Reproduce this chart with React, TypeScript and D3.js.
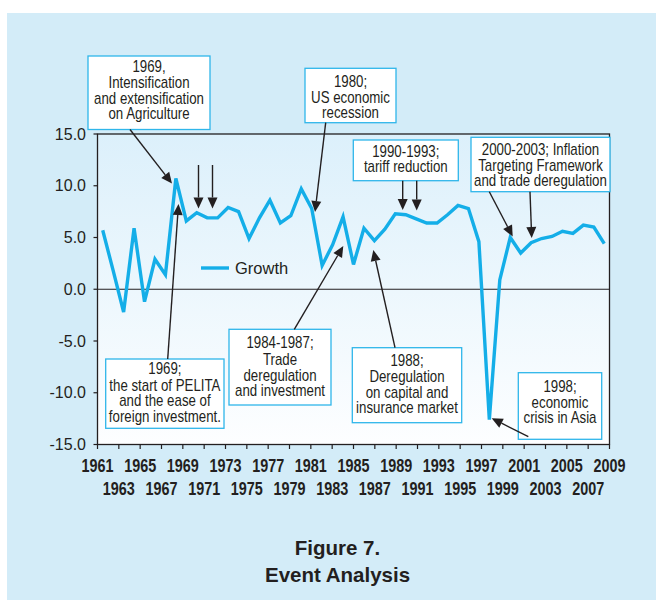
import React from "react";
import * as d3 from "d3";

const years = [
  1961, 1962, 1963, 1964, 1965, 1966, 1967, 1968, 1969, 1970,
  1971, 1972, 1973, 1974, 1975, 1976, 1977, 1978, 1979, 1980,
  1981, 1982, 1983, 1984, 1985, 1986, 1987, 1988, 1989, 1990,
  1991, 1992, 1993, 1994, 1995, 1996, 1997, 1998, 1999, 2000,
  2001, 2002, 2003, 2004, 2005, 2006, 2007, 2008, 2009,
];
const growth = [
  5.7, 1.8, -2.2, 5.9, -1.2, 2.9, 1.4, 10.7, 6.6, 7.4,
  6.9, 6.9, 7.9, 7.5, 4.9, 6.9, 8.6, 6.4, 7.1, 9.7,
  7.8, 2.3, 4.3, 7.0, 2.4, 5.9, 4.7, 5.8, 7.3, 7.2,
  6.8, 6.4, 6.4, 7.2, 8.1, 7.8, 4.6, -12.6, 0.9, 5.0,
  3.5, 4.5, 4.9, 5.1, 5.6, 5.4, 6.2, 6.0, 4.4,
];
const xTickLabels = [
  "1961", "1963", "1965", "1967", "1969", "1971", "1973", "1975", "1977",
  "1979", "1981", "1983", "1985", "1987", "1989", "1991", "1993", "1995",
  "1997", "1999", "2001", "2003", "2005", "2007", "2009",
];
const yTicks = [15, 10, 5, 0, -5, -10, -15];
const seriesName = "Growth";

type Box = { x0: number; x1: number; y0: number; y1: number; cx: number; lines: string[]; ys: number[] };
const boxes: Box[] = [
  { x0: 88, x1: 210, y0: 56, y1: 129.5, cx: 149, lines: ["1969,", "Intensification", "and extensification", "on Agriculture"], ys: [66.7, 82.7, 98.3, 113.3] },
  { x0: 305, x1: 396, y0: 68.3, y1: 122.7, cx: 350.5, lines: ["1980;", "US economic", "recession"], ys: [81.7, 97.3, 112.3] },
  { x0: 353.3, x1: 458.3, y0: 140, y1: 180.7, cx: 405.8, lines: ["1990-1993;", "tariff reduction"], ys: [151.7, 166.7] },
  { x0: 471, x1: 610, y0: 137.3, y1: 191.7, cx: 540.5, lines: ["2000-2003; Inflation", "Targeting Framework", "and trade deregulation"], ys: [149.3, 165, 180.7] },
  { x0: 105.7, x1: 224, y0: 359, y1: 428.3, cx: 164.9, lines: ["1969;", "the start of PELITA", "and the ease of", "foreign investment."], ys: [368.3, 385, 400.7, 416.7] },
  { x0: 229, x1: 331, y0: 329.3, y1: 405, cx: 280, lines: ["1984-1987;", "Trade", "deregulation", "and investment"], ys: [342.7, 359, 375, 390.7] },
  { x0: 352.3, x1: 461.7, y0: 347.7, y1: 422.7, cx: 407, lines: ["1988;", "Deregulation", "on capital and", "insurance market"], ys: [360, 376.7, 392.7, 407.7] },
  { x0: 518.3, x1: 601.7, y0: 372.7, y1: 439.3, cx: 560, lines: ["1998;", "economic", "crisis in Asia"], ys: [386.7, 402.7, 417.7] },
];

const arrows = [
  [130, 129.5, 172, 183.5],
  [198.5, 165, 198.5, 208.5],
  [212.5, 165, 212.5, 208.5],
  [167.7, 359, 178.5, 204],
  [325.7, 122.7, 315, 212],
  [294.3, 329.3, 343.3, 246],
  [395, 347.7, 373.3, 250],
  [402.7, 180.7, 402.7, 210],
  [416.7, 180.7, 416.7, 210.5],
  [489.3, 191.7, 512.7, 236.5],
  [530, 191.7, 531.7, 238],
  [528.3, 436.7, 491.7, 418.3],
];

const L = 97.5, R = 609.5, T = 134, B = 444.5;
const regular = "'Liberation Sans', Arial, sans-serif";
const ink = "#231f20";
const cyan = "#14aee8";
const boxStroke = "#2fb6ea";

function NText({ x, y, children, size = 16, bold = false, anchor = "middle", dy = "0", sx = 0.83 }: any) {
  return (
    <text
      transform={`translate(${x},${y}) scale(${sx},1)`}
      dy={dy}
      textAnchor={anchor}
      fontFamily={regular}
      fontWeight={bold ? "bold" : "normal"}
      fontSize={size}
      fill={ink}
    >
      {children}
    </text>
  );
}

function Arrow({ a }: { a: number[] }) {
  const [x1, y1, x2, y2] = a;
  const dx = x2 - x1, dy = y2 - y1;
  const len = Math.hypot(dx, dy);
  const ux = dx / len, uy = dy / len;
  const hl = 11, hw = 5;
  const bx = x2 - ux * hl, by = y2 - uy * hl;
  const px = -uy, py = ux;
  const pts = `${x2},${y2} ${bx + px * hw},${by + py * hw} ${bx - px * hw},${by - py * hw}`;
  return (
    <g>
      <line x1={x1} y1={y1} x2={bx} y2={by} stroke={ink} strokeWidth={1.4} />
      <polygon points={pts} fill={ink} />
    </g>
  );
}

export default function App() {
  const x = d3.scaleBand<number>().domain(years).range([L, R]).paddingInner(0).paddingOuter(0);
  const xc = (yr: number) => (x(yr) as number) + x.bandwidth() / 2;
  const xt = d3.scalePoint<string>().domain(xTickLabels).range([L, R]);
  const y = d3.scaleLinear().domain([-15, 15]).range([B, T]);
  const line = d3
    .line<number>()
    .x((_, i) => xc(years[i]))
    .y((d) => y(d));

  return (
    <svg width={656} height={600} style={{ position: "absolute", left: 0, top: 0 }}>
      <defs>
        <linearGradient id="pg" x1="0" y1="0" x2="0" y2="1">
          <stop offset="0" stopColor="#dcf0fb" />
          <stop offset="1" stopColor="#fdfeff" />
        </linearGradient>
      </defs>
      <rect x={0} y={0} width={656} height={600} fill="#ffffff" />
      <rect x={7} y={13} width={649} height={587} fill="#d3ecf8" />
      <rect x={L} y={T} width={R - L} height={B - T} fill="url(#pg)" stroke={ink} strokeWidth={1.3} />
      <line x1={L} x2={R} y1={y(0)} y2={y(0)} stroke={ink} strokeWidth={1.2} />
      {yTicks.map((t) => (
        <g key={t}>
          <line x1={L - 4} x2={L} y1={y(t)} y2={y(t)} stroke={ink} strokeWidth={1.2} />
          <text x={86} y={y(t)} dy="0.35em" textAnchor="end" fontFamily={regular} fontSize={16} fill={ink}>
            {t.toFixed(1)}
          </text>
        </g>
      ))}
      {xTickLabels.map((t, i) => (
        <g key={t}>
          <line x1={xt(t)} x2={xt(t)} y1={B} y2={B + 4.5} stroke={ink} strokeWidth={1.2} />
          <NText x={xt(t)} y={i % 2 === 0 ? 472 : 495} size={18} bold sx={0.8}>
            {t}
          </NText>
        </g>
      ))}
      <path d={line(growth) || ""} fill="none" stroke={cyan} strokeWidth={3.4} strokeLinejoin="miter" />
      <line x1={201} x2={229} y1={268} y2={268} stroke={cyan} strokeWidth={3.4} />
      <text x={235} y={274} fontFamily={regular} fontSize={16.5} fill={ink}>{seriesName}</text>
      {boxes.map((b, i) => (
        <g key={i}>
          <rect x={b.x0} y={b.y0} width={b.x1 - b.x0} height={b.y1 - b.y0} fill="#ffffff" stroke={boxStroke} strokeWidth={1.3} />
          {b.lines.map((s, j) => (
            <NText key={j} x={b.cx} y={b.ys[j]} dy="0.36em" size={16}>
              {s}
            </NText>
          ))}
        </g>
      ))}
      {arrows.map((a, i) => (
        <Arrow key={i} a={a} />
      ))}
      <text x={337.5} y={555} textAnchor="middle" fontFamily={regular} fontWeight="bold" fontSize={20.5} fill={ink}>Figure 7.</text>
      <text x={337.5} y={582} textAnchor="middle" fontFamily={regular} fontWeight="bold" fontSize={20.5} fill={ink}>Event Analysis</text>
    </svg>
  );
}
